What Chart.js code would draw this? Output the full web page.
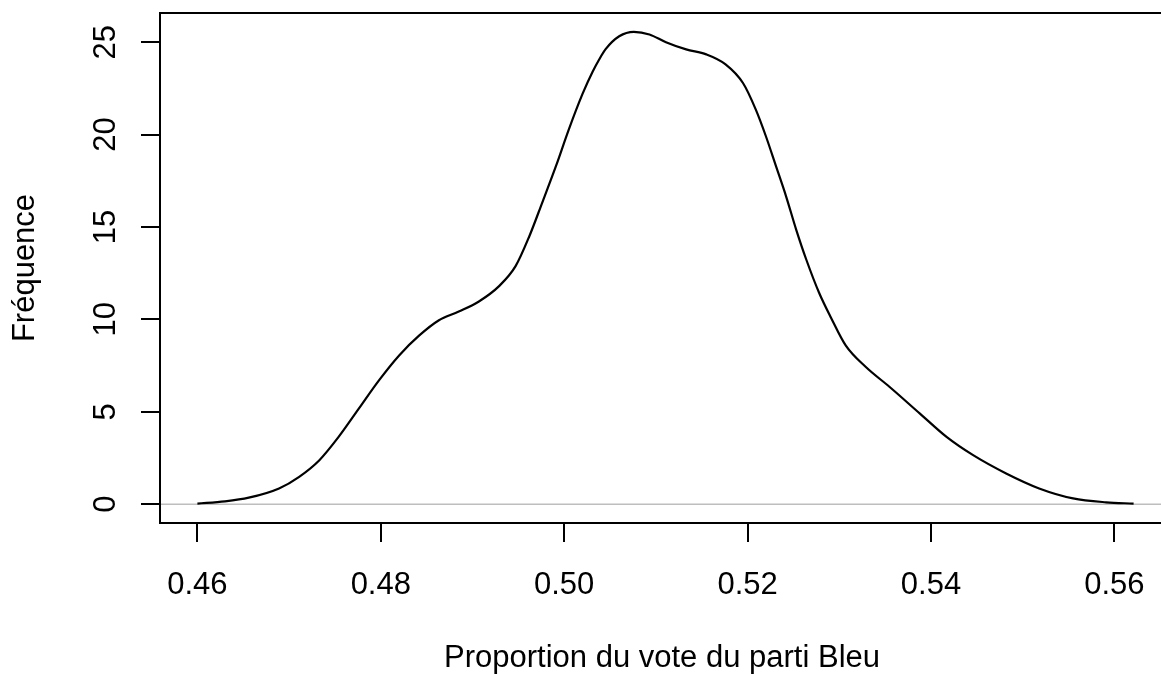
<!DOCTYPE html>
<html>
<head>
<meta charset="utf-8">
<script src="https://cdn.jsdelivr.net/npm/chart.js@4/dist/chart.umd.min.js"></script>
<style>
  html, body { margin: 0; padding: 0; background: #fff; overflow: hidden; }
  #wrap { width: 1161px; height: 674px; overflow: hidden; position: relative; }
  canvas { display: block; }
</style>
</head>
<body>
<div id="wrap"><canvas id="c" width="1175" height="674"></canvas></div>
<script>
// Kernel density of the Blue party's vote share
const voteShare = [
  0.4600, 0.4630, 0.4656, 0.4689, 0.4711, 0.4733, 0.4754, 0.4776, 0.4798, 0.4820,
  0.4842, 0.4863, 0.4885, 0.4907, 0.4929, 0.4947, 0.4962, 0.4976, 0.4991, 0.5005,
  0.5020, 0.5031, 0.5038, 0.5045, 0.5060, 0.5076, 0.5093, 0.5111, 0.5133, 0.5155,
  0.5176, 0.5195, 0.5209, 0.5220, 0.5231, 0.5242, 0.5253, 0.5264, 0.5278, 0.5291,
  0.5307, 0.5329, 0.5355, 0.5388, 0.5417, 0.5446, 0.5482, 0.5518, 0.5555, 0.5591,
  0.5621
];
const density = [
  0.03, 0.15, 0.35, 0.85, 1.48, 2.38, 3.64, 5.17, 6.70, 8.05,
  9.13, 9.94, 10.42, 10.97, 11.80, 12.88, 14.50, 16.31, 18.29, 20.27,
  22.20, 23.40, 24.05, 24.61, 25.32, 25.56, 25.42, 25.00, 24.61, 24.34,
  23.80, 22.79, 21.35, 19.91, 18.29, 16.66, 14.86, 13.24, 11.44, 10.09,
  8.59, 7.42, 6.34, 4.90, 3.64, 2.65, 1.66, 0.85, 0.31, 0.10,
  0.03
];
const xTicks = [0.46, 0.48, 0.50, 0.52, 0.54, 0.56];
const yTicks = [0, 5, 10, 15, 20, 25];
const xTickLabels = ['0.46', '0.48', '0.50', '0.52', '0.54', '0.56'];
const yTickLabels = ['0', '5', '10', '15', '20', '25'];
const xTitle = 'Proportion du vote du parti Bleu';
const yTitle = 'Fréquence';

const X_MIN = 0.45592, X_MAX = 0.56618;
const Y_MIN = -1.02, Y_MAX = 26.58;

const FONT = '31px "Liberation Sans", Arial, sans-serif';

const curve = voteShare.map((v, i) => ({ x: v, y: density[i] }));
const baseline = [{ x: X_MIN, y: 0 }, { x: X_MAX, y: 0 }];

// Box around the plot region plus tick labels and axis titles
const frame = {
  id: 'frame',
  afterDraw(chart) {
    const { ctx, chartArea: a, scales } = chart;
    const xs = scales.x, ys = scales.y;
    ctx.save();
    ctx.strokeStyle = '#000';
    ctx.lineWidth = 2;
    ctx.strokeRect(a.left, a.top, a.right - a.left, a.bottom - a.top);

    ctx.fillStyle = '#000';
    ctx.font = FONT;
    // x tick labels
    ctx.textAlign = 'center';
    ctx.textBaseline = 'alphabetic';
    xTicks.forEach((v, i) => {
      ctx.fillText(xTickLabels[i], xs.getPixelForValue(v), 594);
    });
    // y tick labels, parallel to the axis
    yTicks.forEach((v, i) => {
      ctx.save();
      ctx.translate(115, ys.getPixelForValue(v));
      ctx.rotate(-Math.PI / 2);
      ctx.textAlign = 'center';
      ctx.fillText(yTickLabels[i], 0, 0);
      ctx.restore();
    });
    // axis titles
    ctx.textAlign = 'center';
    ctx.fillText(xTitle, 662, 667);
    ctx.save();
    ctx.translate(34, (a.top + a.bottom) / 2);
    ctx.rotate(-Math.PI / 2);
    ctx.fillText(yTitle, 0, 0);
    ctx.restore();
    ctx.restore();
  }
};

new Chart(document.getElementById('c'), {
  type: 'line',
  data: {
    datasets: [
      {
        data: baseline,
        borderColor: '#bebebe',
        borderWidth: 1.5,
        pointRadius: 0,
        fill: false,
        order: 2
      },
      {
        data: curve,
        borderColor: '#000',
        borderWidth: 2.2,
        pointRadius: 0,
        fill: false,
        cubicInterpolationMode: 'monotone',
        order: 1
      }
    ]
  },
  options: {
    responsive: false,
    animation: false,
    events: [],
    layout: { padding: { top: 13, right: 4, left: 0, bottom: 0 } },
    plugins: {
      legend: { display: false },
      tooltip: { enabled: false },
      title: { display: false }
    },
    scales: {
      x: {
        type: 'linear',
        min: X_MIN,
        max: X_MAX,
        afterBuildTicks: s => { s.ticks = xTicks.map(v => ({ value: v })); },
        afterFit: s => { s.height = 151; },
        ticks: { display: false },
        border: { display: false },
        grid: { display: true, drawOnChartArea: false, drawTicks: true, tickLength: 19, color: '#000', lineWidth: 2 }
      },
      y: {
        type: 'linear',
        min: Y_MIN,
        max: Y_MAX,
        afterBuildTicks: s => { s.ticks = yTicks.map(v => ({ value: v })); },
        afterFit: s => { s.width = 160; },
        ticks: { display: false },
        border: { display: false },
        grid: { display: true, drawOnChartArea: false, drawTicks: true, tickLength: 19, color: '#000', lineWidth: 2 }
      }
    }
  },
  plugins: [frame]
});
</script>
</body>
</html>
